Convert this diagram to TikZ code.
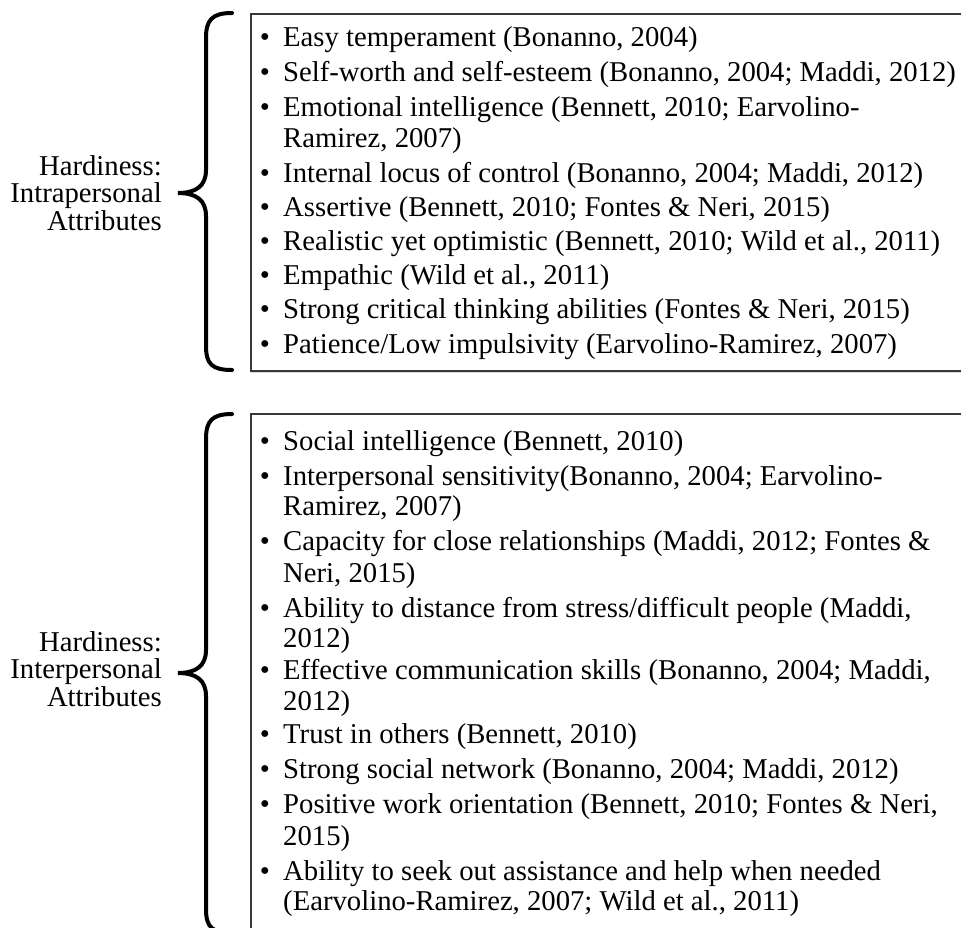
\documentclass[tikz,border=0pt]{standalone}
\usepackage{fontspec}
\setmainfont{Liberation Serif}
\usetikzlibrary{positioning,shadows}

\begin{document}
\begin{tikzpicture}[x=1pt,y=-1pt,
    every node/.style={inner sep=0pt,font=\fontsize{28.7}{27.5}\selectfont},
    listbox/.style={draw=black!78,line width=1.5pt,fill=white,anchor=north west,
      minimum width=760pt,
      drop shadow={shadow xshift=0.5pt,shadow yshift=-2pt,opacity=0.3}},
    entry/.style={anchor=base west},
    dot/.style={anchor=base},
    heading/.style={align=right,anchor=east},
    brace/.style={line width=4pt,line cap=round}]
\useasboundingbox (0,0) rectangle (961,927);

\node[listbox,minimum height=357pt] (intrabox) at (250,13) {};
\node[listbox,minimum height=530pt] (interbox) at (250,413) {};

\node[heading] (intrahead) at (162,193) {Hardiness:\\Intrapersonal\\Attributes};
\node[heading] (interhead) at (162,669) {Hardiness:\\Interpersonal\\Attributes};

\draw[brace] (232,13) .. controls (212,13) and (206,20) .. (206,38) -- (206,170)
  .. controls (206,186) and (196,193) .. (178,193)
  .. controls (196,193) and (206,200) .. (206,216) -- (206,346)
  .. controls (206,364) and (212,370) .. (232,370);
\draw[brace] (232,414) .. controls (212,414) and (206,421) .. (206,439) -- (206,650)
  .. controls (206,666) and (196,673) .. (178,673)
  .. controls (196,673) and (206,680) .. (206,696) -- (206,909)
  .. controls (206,927) and (212,933) .. (232,933);

\foreach \y [count=\i] in {46,81,116,182,216,250,284,318,353}
  \node[dot] (intradot\i) at (265,\y) {•};
\foreach \y/\t [count=\i] in {
    46/{Easy temperament (Bonanno, 2004)},
    81/{Self-worth and self-esteem (Bonanno, 2004; Maddi, 2012)},
    116/{Emotional intelligence (Bennett, 2010; Earvolino-},
    147/{Ramirez, 2007)},
    182/{Internal locus of control (Bonanno, 2004; Maddi, 2012)},
    216/{Assertive (Bennett, 2010; Fontes \& Neri, 2015)},
    250/{Realistic yet optimistic (Bennett, 2010; Wild et al., 2011)},
    284/{Empathic (Wild et al., 2011)},
    318/{Strong critical thinking abilities (Fontes \& Neri, 2015)},
    353/{Patience/Low impulsivity (Earvolino-Ramirez, 2007)}}
  \node[entry] (intra\i) at (283,\y) {\t};

\foreach \y [count=\i] in {450,485,550,617,679,743,778,813,880}
  \node[dot] (interdot\i) at (265,\y) {•};
\foreach \y/\t [count=\i] in {
    450/{Social intelligence (Bennett, 2010)},
    485/{Interpersonal sensitivity(Bonanno, 2004; Earvolino-},
    515/{Ramirez, 2007)},
    550/{Capacity for close relationships (Maddi, 2012; Fontes \&},
    582/{Neri, 2015)},
    617/{Ability to distance from stress/difficult people (Maddi,},
    647/{2012)},
    679/{Effective communication skills (Bonanno, 2004; Maddi,},
    710/{2012)},
    743/{Trust in others (Bennett, 2010)},
    778/{Strong social network (Bonanno, 2004; Maddi, 2012)},
    813/{Positive work orientation (Bennett, 2010; Fontes \& Neri,},
    845/{2015)},
    880/{Ability to seek out assistance and help when needed},
    910/{(Earvolino-Ramirez, 2007; Wild et al., 2011)}}
  \node[entry] (inter\i) at (283,\y) {\t};
\end{tikzpicture}
\end{document}
